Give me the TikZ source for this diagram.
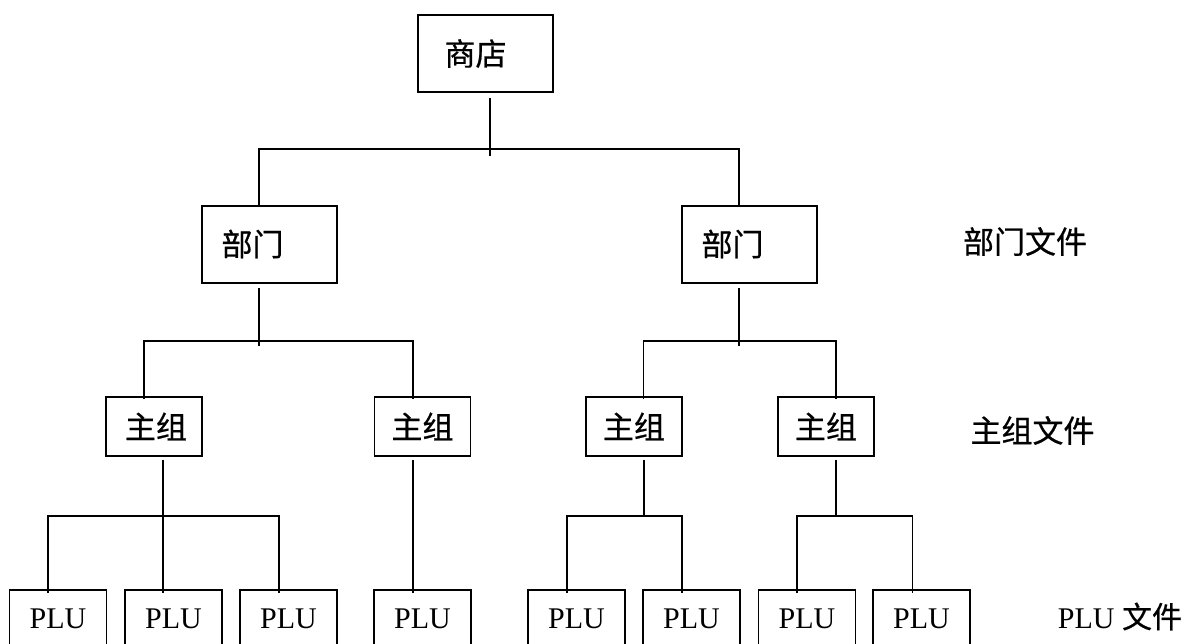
\documentclass[tikz,border=0pt]{standalone}
\usepackage{fontspec}
\setmainfont{Liberation Serif}
\newfontfamily\cjk[FakeBold=0.6]{Noto Sans CJK SC}
\begin{document}
\begin{tikzpicture}[x=1pt,y=-1pt,line width=1.8pt,
  bigbox/.style={draw,inner sep=0pt,minimum width=135pt,minimum height=77pt,font=\cjk\fontsize{31}{31}\selectfont},
  grpbox/.style={draw,inner sep=0pt,minimum width=96pt,minimum height=59pt,font=\cjk\fontsize{31}{31}\selectfont},
  plubox/.style={draw,inner sep=0pt,anchor=north,minimum width=97pt,text height=39pt,text depth=40pt,font=\fontsize{30}{30}\selectfont},
  filelabel/.style={inner sep=0pt,font=\cjk\fontsize{31}{31}\selectfont}]
\useasboundingbox (0,0) rectangle (1190,643);
\clip (0,0) rectangle (1190,643);
% boxes
\node[bigbox] (shop) at (485.5,53.5) {商店\kern20pt\relax};
\node[bigbox] (dl) at (269.5,244.5) {\raisebox{3.5pt}{部门}\kern34pt\relax};
\node[bigbox] (dr) at (749.5,244.5) {\raisebox{3.5pt}{部门}\kern34pt\relax};
\node[grpbox] (g1) at (154,426.5) {\kern4pt\raisebox{-4pt}{主组}};
\node[grpbox] (g2) at (422.5,426.5) {\raisebox{-4pt}{主组}};
\node[grpbox] (g3) at (634,426.5) {\raisebox{-4pt}{主组}};
\node[grpbox] (g4) at (826,426.5) {\raisebox{-4pt}{主组}};
\node[plubox] (p1) at (58,589) {PLU};
\node[plubox] (p2) at (173.5,589) {PLU};
\node[plubox] (p3) at (288.5,589) {PLU};
\node[plubox] (p4) at (422.5,589) {PLU};
\node[plubox] (p5) at (576.5,589) {PLU};
\node[plubox] (p6) at (691.5,589) {PLU};
\node[plubox] (p7) at (807,589) {PLU};
\node[plubox] (p8) at (921.5,589) {PLU};
% side labels
\node[filelabel] (f1) at (1025,241.5) {部门文件};
\node[filelabel] (f2) at (1032.5,430.5) {主组文件};
\node[inner sep=0pt,anchor=base west,font=\fontsize{30}{30}\selectfont] (f3) at (1057,628) {PLU {\cjk 文件}};
% connectors
\draw ([xshift=4.5pt,yshift=-5pt]shop.south) -- ++(0,58);
\draw ([xshift=-10.2pt,yshift=-2pt]dl.north) -- ++(0,-58) -| ([xshift=-10.2pt,yshift=-2pt]dr.north);
\draw ([xshift=-10.2pt,yshift=-4pt]dl.south) -- ++(0,58);
\draw ([xshift=-10.2pt,yshift=-4pt]dr.south) -- ++(0,58);
\draw ([xshift=-9.7pt,yshift=-3pt]g1.north) -- ++(0,-58.5) -| ([xshift=-9.2pt,yshift=-3pt]g2.north);
\draw ([xshift=9.5pt,yshift=-3pt]g3.north) -- ++(0,-58.5) -| ([xshift=9.7pt,yshift=-3pt]g4.north);
\draw ([xshift=9.3pt,yshift=-3pt]g1.south) -- ([xshift=-10.2pt,yshift=-4pt]p2.north);
\draw ([xshift=-9.7pt,yshift=-4pt]p1.north) -- ++(0,-77) -| ([xshift=-9.5pt,yshift=-4pt]p3.north);
\draw ([xshift=-9.2pt,yshift=-3pt]g2.south) -- ([xshift=-9.2pt,yshift=-4pt]p4.north);
\draw ([xshift=10pt,yshift=-3pt]g3.south) -- ++(0,57);
\draw ([xshift=-9.8pt,yshift=-4pt]p5.north) -- ++(0,-77) -| ([xshift=-9.2pt,yshift=-4pt]p6.north);
\draw ([xshift=9.7pt,yshift=-3pt]g4.south) -- ++(0,57);
\draw ([xshift=-9.7pt,yshift=-4pt]p7.north) -- ++(0,-77) -| ([xshift=-9pt,yshift=-4pt]p8.north);
\end{tikzpicture}
\end{document}
